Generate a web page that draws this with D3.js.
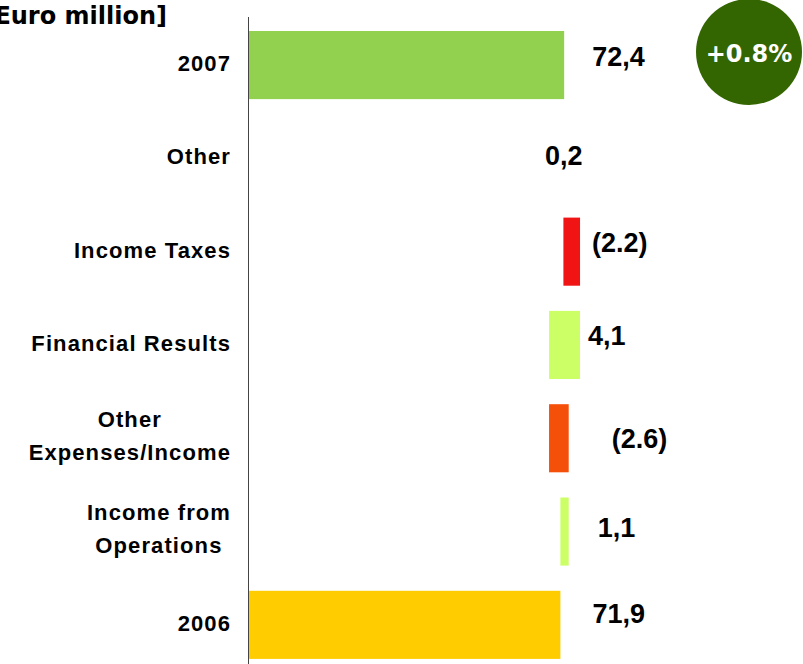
<!DOCTYPE html>
<html>
<head>
<meta charset="utf-8">
<script src="https://cdn.jsdelivr.net/npm/d3@7"></script>
<style>
  html, body { margin: 0; padding: 0; background: #fff; }
  svg { display: block; }
</style>
</head>
<body>
<svg id="chart" width="803" height="664"></svg>
<script>
// Net income bridge 2006 -> 2007, rows listed bottom to top
const categories = ["2006", "Income from\nOperations", "Other\nExpenses/Income", "Financial Results", "Income Taxes", "Other", "2007"];
const values = [71.9, 1.1, -2.6, 4.1, -2.2, 0.2, 72.4];
const kinds = ["total", "delta", "delta", "delta", "delta", "delta", "total"];
const valueLabels = ["71,9", "1,1", "(2.6)", "4,1", "(2.2)", "0,2", "72,4"];
const unitLabel = "[Euro million]";
const changeLabel = "+0.8%";

// styling per row
const barColors = ["#FFCC00", "#CCFF66", "#F5500A", "#CCFF66", "#F01414", "#CCFF66", "#92D050"];
const barOpacity = [1, 1, 1, 1, 1, 0, 1];
// value label nudges: [dx from bar end, dy from row centre]
const labelNudge = [[32, -12], [29, -4], [43, 0], [8, -10], [12, -9], [-20, -3], [28, -9]];

const svg = d3.select("#chart");
const W = 803, H = 664;
const axisX = 249;

// build waterfall segments
let running = 0;
const rows = categories.map((c, i) => {
  let start, end;
  if (kinds[i] === "total") { start = null; end = values[i]; running = values[i]; }
  else { start = running; end = running + values[i]; running = end; }
  return { cat: c, i, start, end, label: valueLabels[i] };
});

const x = d3.scaleLinear().domain([30.7, 104]).range([axisX, W]);
const y = d3.scaleBand()
  .domain(categories.slice().reverse())
  .range([18.4, 671.5])
  .paddingInner(0.27)
  .paddingOuter(0.135);

// bars
svg.append("g").selectAll("rect").data(rows).join("rect")
  .attr("x", d => d.start === null ? x.range()[0] : x(Math.min(d.start, d.end)))
  .attr("width", d => d.start === null ? x(d.end) - x.range()[0] : Math.abs(x(d.end) - x(d.start)))
  .attr("y", d => y(d.cat))
  .attr("height", y.bandwidth())
  .attr("fill", d => barColors[d.i])
  .attr("fill-opacity", d => barOpacity[d.i]);

// vertical category axis line
svg.append("line")
  .attr("x1", axisX - 0.5).attr("x2", axisX - 0.5)
  .attr("y1", 17).attr("y2", H)
  .attr("stroke", "#444").attr("stroke-width", 1);

// category labels, multi-line blocks centred, block right edge at 230
const catFont = 22;
const catG = svg.append("g")
  .attr("font-family", "Liberation Sans, Arial, Helvetica, sans-serif")
  .attr("font-weight", "bold")
  .attr("font-size", catFont)
  .attr("letter-spacing", "1.1px")
  .attr("fill", "#000");

rows.forEach(d => {
  const lines = d.cat.split("\n");
  const cy = y(d.cat) + y.bandwidth() / 2;
  const lineGap = 33;
  const t = catG.append("text");
  const spans = lines.map(ln => t.append("tspan").text(ln));
  const widths = spans.map(s => s.node().getComputedTextLength());
  const maxW = d3.max(widths);
  const centreX = 231 - maxW / 2;
  const blockShift = lines.length > 1 ? -3 : -2;
  spans.forEach((s, k) => {
    const lineCentre = cy + blockShift + (k - (lines.length - 1) / 2) * lineGap;
    s.attr("x", centreX).attr("text-anchor", "middle")
     .attr("y", lineCentre + catFont * 0.36);
  });
});

// value labels
const valFont = 27;
svg.append("g")
  .attr("font-family", "Liberation Sans, Arial, Helvetica, sans-serif")
  .attr("font-weight", "bold")
  .attr("font-size", valFont)
  .attr("fill", "#000")
  .selectAll("text").data(rows).join("text")
  .attr("x", d => {
    const right = d.start === null ? x(d.end) : x(Math.max(d.start, d.end));
    return right + labelNudge[d.i][0];
  })
  .attr("y", d => y(d.cat) + y.bandwidth() / 2 + labelNudge[d.i][1] + valFont * 0.36)
  .text(d => d.label);

// unit caption
svg.append("text")
  .attr("x", 167).attr("y", 24)
  .attr("text-anchor", "end")
  .attr("font-family", "DejaVu Sans, Verdana, sans-serif")
  .attr("font-weight", "bold")
  .attr("font-size", 24)
  .attr("fill", "#000")
  .text(unitLabel);

// growth badge
const badge = svg.append("g").attr("transform", "translate(749,52)");
badge.append("circle").attr("r", 53).attr("fill", "#336600");
badge.append("text")
  .attr("text-anchor", "middle")
  .attr("y", 9.5)
  .attr("font-family", "DejaVu Sans, Verdana, sans-serif")
  .attr("font-weight", "bold")
  .attr("font-size", 24)
  .attr("fill", "#fff")
  .text(changeLabel);
</script>
</body>
</html>
